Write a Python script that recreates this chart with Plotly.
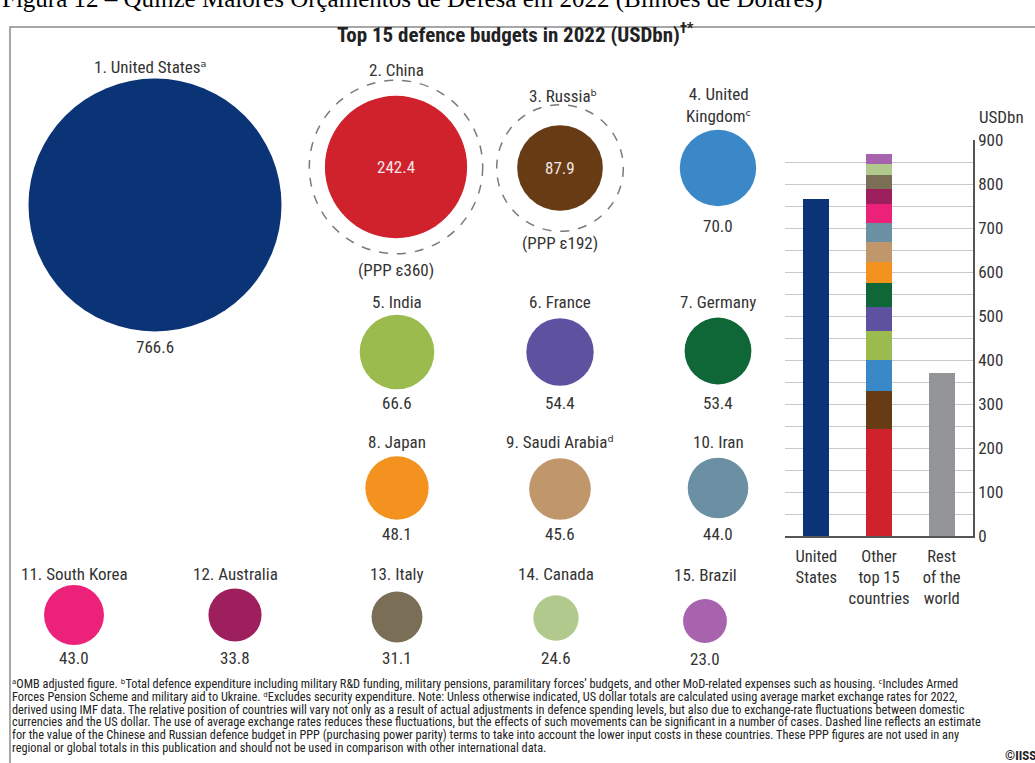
import math
import plotly.graph_objects as go

# ---------------- data ----------------
countries = ["United States", "China", "Russia", "United Kingdom", "India", "France",
             "Germany", "Japan", "Saudi Arabia", "Iran", "South Korea", "Australia",
             "Italy", "Canada", "Brazil"]
budgets = [766.6, 242.4, 87.9, 70.0, 66.6, 54.4, 53.4, 48.1, 45.6, 44.0, 43.0, 33.8, 31.1, 24.6, 23.0]
note_marks = ["ᵃ", "", "ᵇ", "ᶜ", "", "", "", "", "ᵈ", "", "", "", "", "", ""]
ppp_estimates = {"China": 360, "Russia": 192}
rest_of_world = 370.0
bar_categories = ["United<br>States", "Other<br>top 15<br>countries", "Rest<br>of the<br>world"]
y_ticks = [0, 100, 200, 300, 400, 500, 600, 700, 800, 900]

colors = ["#0b3477", "#cf222d", "#673c14", "#3b88c8", "#9bbb4f", "#5e52a0",
          "#0f6637", "#f3921f", "#c0976a", "#6b8fa3", "#ec2179", "#9e1f5e",
          "#7a6e57", "#b2c98d", "#a763ae"]
rest_color = "#939598"

# ---------------- layout constants (pixel grid) ----------------
W, H = 1035, 763
K = 253 / math.sqrt(766.6)          # px diameter per sqrt(USDbn)
cx = [155, 396, 560, 718, 397, 560, 718, 397, 560, 718, 74, 235, 397, 556, 705]
cy = [205, 167, 168, 168, 352, 352, 351, 488, 489, 488, 615, 615, 617, 618, 621]
label_y = [67, 70, 96, 105, 302, 302, 302, 442, 442, 442, 574, 574, 574, 574, 575]
value_y = [347, None, None, 226, 403, 403, 403, 534, 534, 534, 658, 658, 658, 658, 659]
label_dx = [-5, 0, 3, 0, 0, 0, 0, 0, 0, 0, 0, 0, 0, 0, 0]
ppp_label_y = {"China": 270, "Russia": 243}

FONT = "Liberation Sans Narrow, Arial Narrow, Roboto Condensed, DejaVu Sans Condensed, Liberation Sans"
TXT = "#333333"

fig = go.Figure()

# bubbles
fig.add_trace(go.Scatter(
    x=cx, y=cy, mode="markers",
    marker=dict(size=[K * math.sqrt(v) for v in budgets], sizemode="diameter",
                color=colors, line=dict(width=0), opacity=1),
    hoverinfo="text", text=[f"{c}: {v}" for c, v in zip(countries, budgets)],
    showlegend=False, xaxis="x", yaxis="y"))

annotations = []
shapes = []

for i, c in enumerate(countries):
    name = "4. United<br>Kingdom" if c == "United Kingdom" else f"{i+1}. {c}"
    name += note_marks[i]
    annotations.append(dict(x=cx[i] + label_dx[i], y=label_y[i], xref="x", yref="y", text=name,
                            showarrow=False, font=dict(family=FONT, size=17, color=TXT),
                            xanchor="center", yanchor="middle"))
    if c in ppp_estimates:
        annotations.append(dict(x=cx[i], y=cy[i], xref="x", yref="y", text=f"{budgets[i]:.1f}",
                                showarrow=False, font=dict(family=FONT, size=17, color="#f3e6e6"),
                                xanchor="center", yanchor="middle"))
        d = K * math.sqrt(ppp_estimates[c])
        shapes.append(dict(type="circle", xref="x", yref="y",
                           x0=cx[i] - d / 2, x1=cx[i] + d / 2, y0=cy[i] - d / 2, y1=cy[i] + d / 2,
                           line=dict(color="#7a7a7a", width=1.5, dash="dash")))
        annotations.append(dict(x=cx[i], y=ppp_label_y[c], xref="x", yref="y",
                                text=f"(PPP ε{ppp_estimates[c]})", showarrow=False,
                                font=dict(family=FONT, size=17, color=TXT),
                                xanchor="center", yanchor="middle"))
    else:
        annotations.append(dict(x=cx[i], y=value_y[i], xref="x", yref="y", text=f"{budgets[i]:.1f}",
                                showarrow=False, font=dict(family=FONT, size=17, color=TXT),
                                xanchor="center", yanchor="middle"))

# ---------------- bar chart ----------------
fig.add_trace(go.Bar(x=[0], y=[budgets[0]], marker=dict(color=colors[0], line=dict(width=0)),
                     width=0.415, showlegend=False, xaxis="x2", yaxis="y2", name=countries[0]))
for i in range(1, len(countries)):
    fig.add_trace(go.Bar(x=[1], y=[budgets[i]], marker=dict(color=colors[i], line=dict(width=0)),
                         width=0.415, showlegend=False, xaxis="x2", yaxis="y2", name=countries[i]))
fig.add_trace(go.Bar(x=[2], y=[rest_of_world], marker=dict(color=rest_color, line=dict(width=0)),
                     width=0.415, showlegend=False, xaxis="x2", yaxis="y2", name="Rest of the world"))

annotations.append(dict(x=977, y=117, xref="x", yref="y", text="USDbn", showarrow=False,
                        font=dict(family=FONT, size=17, color=TXT), xanchor="left", yanchor="middle"))

# title
annotations.append(dict(x=515, y=33, xref="x", yref="y", text="<b>Top 15 defence budgets in 2022 (USDbn)<sup>†*</sup></b>",
                        showarrow=False, font=dict(family=FONT, size=21, color="#222222"),
                        xanchor="center", yanchor="middle"))

# cropped caption at top
annotations.append(dict(x=0, y=15, xref="x", yref="y",
                        text="Figura 12 – Quinze Maiores Orçamentos de Defesa em 2022 (Bilhões de Dólares)",
                        showarrow=False, font=dict(family="Liberation Serif, Times New Roman, serif", size=25, color="#000000"),
                        xanchor="left", yanchor="bottom"))

# footnotes
foot_lines = [
    "ᵃOMB adjusted figure. ᵇTotal defence expenditure including military R&D funding, military pensions, paramilitary forces’ budgets, and other MoD-related expenses such as housing. ᶜIncludes Armed",
    "Forces Pension Scheme and military aid to Ukraine. ᵈExcludes security expenditure. Note: Unless otherwise indicated, US dollar totals are calculated using average market exchange rates for 2022,",
    "derived using IMF data. The relative position of countries will vary not only as a result of actual adjustments in defence spending levels, but also due to exchange-rate fluctuations between domestic",
    "currencies and the US dollar. The use of average exchange rates reduces these fluctuations, but the effects of such movements can be significant in a number of cases. Dashed line reflects an estimate",
    "for the value of the Chinese and Russian defence budget in PPP (purchasing power parity) terms to take into account the lower input costs in these countries. These PPP figures are not used in any",
    "regional or global totals in this publication and should not be used in comparison with other international data.",
]
foot_y0, foot_dy = 684, 12.8
for k, line in enumerate(foot_lines):
    annotations.append(dict(x=10, y=foot_y0 + k * foot_dy, xref="x", yref="y", text=line, showarrow=False,
                            font=dict(family=FONT, size=12.3, color="#222222"), xanchor="left", yanchor="middle"))
annotations.append(dict(x=1003, y=755, xref="x", yref="y", text="<b>©IISS</b>", showarrow=False,
                        font=dict(family=FONT, size=13, color="#222222"), xanchor="left", yanchor="middle"))

# frame
shapes.append(dict(type="rect", xref="x", yref="y", x0=10, x1=1050, y0=27, y1=780,
                   line=dict(color="#8a8a8a", width=1.5), fillcolor="rgba(0,0,0,0)", layer="below"))

fig.update_layout(
    width=W, height=H, margin=dict(l=0, r=0, t=0, b=0, autoexpand=False),
    paper_bgcolor="white", plot_bgcolor="rgba(0,0,0,0)",
    barmode="stack", bargap=0,
    xaxis=dict(domain=[0, 1], range=[0, W], visible=False, fixedrange=True, automargin=False),
    yaxis=dict(domain=[0, 1], range=[H, 0], visible=False, fixedrange=True, automargin=False),
    xaxis2=dict(domain=[785 / W, 973 / W], range=[-0.5, 2.5], anchor="y2", automargin=False,
                tickvals=[0, 1, 2], ticktext=bar_categories, showgrid=False, ticklabelstandoff=4,
                showline=True, linecolor="#555555", linewidth=1.5, ticks="",
                tickfont=dict(family=FONT, size=16.5, color=TXT), zeroline=False),
    yaxis2=dict(domain=[(H - 536) / H, (H - 140) / H], range=[0, 900], anchor="x2", side="right",
                automargin=False,
                tickvals=y_ticks, ticktext=[str(t) for t in y_ticks], showgrid=True, gridcolor="#c9c9c9",
                gridwidth=1, minor=dict(dtick=50, showgrid=True, gridcolor="#c9c9c9", ticks=""),
                showline=True, linecolor="#555555", linewidth=1.5, ticks="", zeroline=False,
                tickfont=dict(family=FONT, size=17, color=TXT)),
    annotations=annotations, shapes=shapes, showlegend=False,
)

fig.write_html("out.html", include_plotlyjs=True, config={"displayModeBar": False},
               post_script="document.documentElement.style.margin='0px'; document.body.style.margin='0px';")
